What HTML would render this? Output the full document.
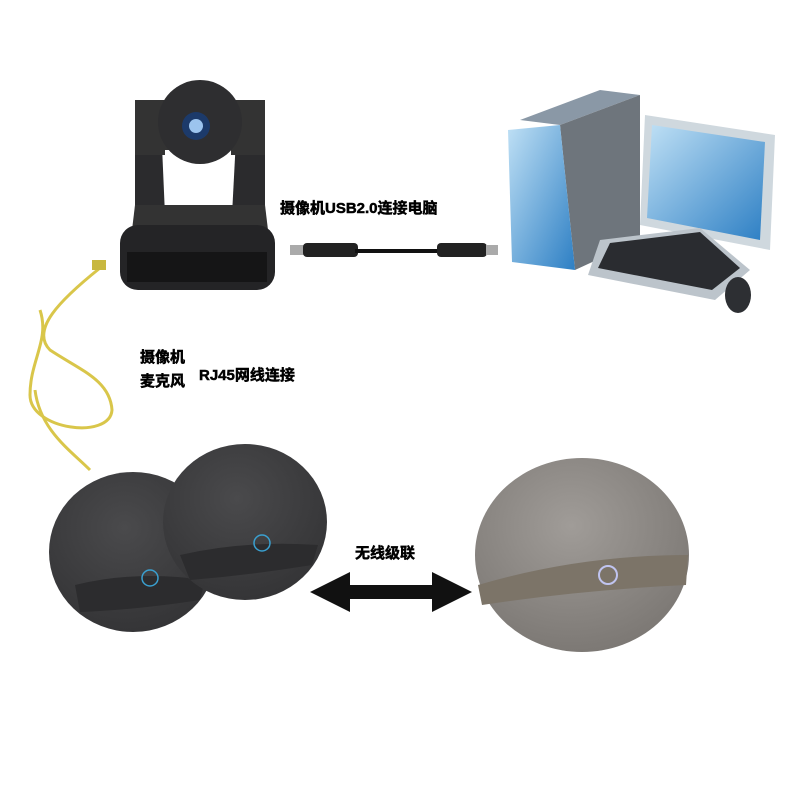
<!DOCTYPE html>
<html><head><meta charset="utf-8"><style>
body{margin:0;background:#fff;width:800px;height:800px;overflow:hidden}
svg{display:block}
text{font-family:"Liberation Sans","Noto Sans CJK SC",sans-serif;font-weight:bold;fill:#000;stroke:#000;stroke-width:0.5}
</style></head><body>
<svg width="800" height="800" viewBox="0 0 800 800">
<defs>
<radialGradient id="dk" cx="0.45" cy="0.35" r="0.7"><stop offset="0" stop-color="#4a4a4c"/><stop offset="1" stop-color="#333335"/></radialGradient>
<radialGradient id="gr" cx="0.45" cy="0.35" r="0.7"><stop offset="0" stop-color="#a09c98"/><stop offset="1" stop-color="#7a7672"/></radialGradient>
<linearGradient id="bl" x1="0" y1="0" x2="1" y2="1"><stop offset="0" stop-color="#bfe0f5"/><stop offset="1" stop-color="#2d7fc4"/></linearGradient>
</defs>
<!-- camera -->
<path d="M135 100 L160 100 L165 215 L135 235 Z" fill="#2b2b2d"/>
<path d="M265 100 L238 100 L232 215 L265 235 Z" fill="#2b2b2d"/>
<rect x="135" y="100" width="130" height="55" fill="#333"/>
<rect x="165" y="150" width="66" height="55" fill="#fff"/>
<path d="M135 205 L265 205 L268 230 L132 230 Z" fill="#333"/>
<circle cx="200" cy="122" r="42" fill="#2e2e30"/>
<circle cx="196" cy="126" r="14" fill="#1c3a6a"/>
<circle cx="196" cy="126" r="7" fill="#9cc4ee"/>
<rect x="120" y="225" width="155" height="65" rx="18" fill="#242426"/>
<rect x="127" y="252" width="140" height="30" fill="#151516"/>
<!-- usb cable -->
<rect x="290" y="245" width="14" height="10" fill="#aaa"/>
<rect x="303" y="243" width="55" height="14" rx="4" fill="#222"/>
<line x1="355" y1="251" x2="440" y2="251" stroke="#111" stroke-width="4"/>
<rect x="437" y="243" width="50" height="14" rx="4" fill="#222"/>
<rect x="486" y="245" width="12" height="10" fill="#aaa"/>
<text x="280" y="213" font-size="15">摄像机USB2.0连接电脑</text>
<!-- computer -->
<polygon points="520,120 600,90 640,95 560,125" fill="#8a98a6"/>
<polygon points="560,125 640,95 640,240 575,270" fill="#6e757c"/>
<polygon points="508,130 560,125 575,270 512,262" fill="url(#bl)"/>
<polygon points="645,115 775,135 770,250 640,225" fill="#cfd8de"/>
<polygon points="652,125 765,142 760,240 647,218" fill="url(#bl)"/>
<polygon points="600,240 700,228 750,270 715,300 588,275" fill="#bcc4cb"/>
<polygon points="610,243 700,232 740,268 712,290 598,268" fill="#2a2c30"/>
<ellipse cx="738" cy="295" rx="13" ry="18" fill="#2d2f33"/>
<!-- yellow cable -->
<path d="M100 268 C60 300, 30 330, 50 350 C80 370, 110 380, 112 410 C110 440, 30 430, 30 395 C30 360,50 340,40 310" fill="none" stroke="#d9c64a" stroke-width="3"/>
<path d="M35 390 C40 430, 70 450, 90 470" fill="none" stroke="#d9c64a" stroke-width="3"/>
<rect x="92" y="260" width="14" height="10" fill="#c8b840"/>
<text x="140" y="362" font-size="15">摄像机</text>
<text x="140" y="386" font-size="15">麦克风</text>
<text x="199" y="380" font-size="15">RJ45网线连接</text>
<!-- speakers -->
<ellipse cx="133" cy="552" rx="84" ry="80" fill="url(#dk)"/>
<path d="M75 585 Q135 570 205 580 L200 600 Q135 610 80 612 Z" fill="#2c2c2e"/>
<ellipse cx="245" cy="522" rx="82" ry="78" fill="url(#dk)"/>
<path d="M180 555 Q245 540 318 545 L312 565 Q250 575 190 580 Z" fill="#2c2c2e"/>
<circle cx="150" cy="578" r="8" fill="none" stroke="#3aa0d0" stroke-width="1.5"/>
<circle cx="262" cy="543" r="8" fill="none" stroke="#3aa0d0" stroke-width="1.5"/>
<ellipse cx="582" cy="555" rx="107" ry="97" fill="url(#gr)"/>
<path d="M478 585 Q580 555 688 555 L686 585 Q580 590 482 605 Z" fill="#7c7468"/>
<circle cx="608" cy="575" r="9" fill="none" stroke="#c0c4f0" stroke-width="2"/>
<!-- arrow -->
<polygon points="310,592 350,572 350,585 432,585 432,572 472,592 432,612 432,599 350,599 350,612" fill="#111"/>
<text x="355" y="558" font-size="15">无线级联</text>
</svg>
</body></html>
